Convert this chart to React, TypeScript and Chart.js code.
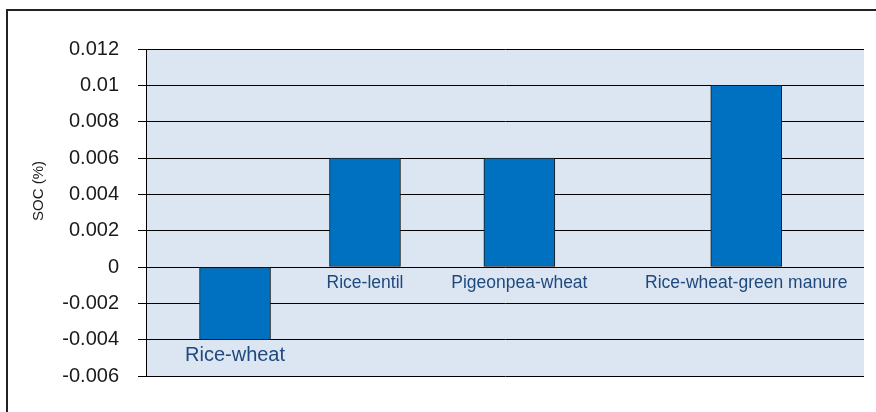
import React, { useEffect, useRef } from "react";
import { Chart, registerables } from "chart.js";

Chart.register(...registerables);

const categories = ["Rice-wheat", "Rice-lentil", "Pigeonpea-wheat", "Rice-wheat-green manure"];
const socValues = [-0.004, 0.006, 0.006, 0.01];
// horizontal position of each bar across the plot, in percent of plot width
const barPositions = [12.4, 30.5, 52, 83.6];
const yAxisTitle = "SOC (%)";
const yMin = -0.006;
const yMax = 0.012;
const yStep = 0.002;

const FONT = "'Liberation Sans', Arial, sans-serif";

const plotBg = {
  id: "plotBg",
  beforeDraw(chart: any) {
    const { ctx, chartArea } = chart;
    ctx.save();
    ctx.fillStyle = "#dce6f2";
    ctx.fillRect(chartArea.left, chartArea.top, chartArea.right - chartArea.left, chartArea.bottom - chartArea.top);
    ctx.restore();
  },
};

const labelSizes = [20, 17.5, 17.5, 17.5];

const barLabels = {
  id: "barLabels",
  afterDatasetsDraw(chart: any) {
    const { ctx } = chart;
    const meta = chart.getDatasetMeta(0);
    ctx.save();
    ctx.fillStyle = "#1f497d";
    ctx.textAlign = "center";
    ctx.textBaseline = "alphabetic";
    meta.data.forEach((el: any, i: number) => {
      const bottom = Math.max(el.base, el.y);
      ctx.font = `${labelSizes[i]}px ${FONT}`;
      ctx.fillText(categories[i], el.x, bottom + 21.5);
    });
    ctx.restore();
  },
};

const yTitle = {
  id: "yTitle",
  afterDraw(chart: any) {
    const { ctx } = chart;
    ctx.save();
    ctx.translate(38.5, 191);
    ctx.rotate(-Math.PI / 2);
    ctx.font = `15px ${FONT}`;
    ctx.fillStyle = "#1a1a1a";
    ctx.textAlign = "center";
    ctx.textBaseline = "middle";
    ctx.fillText(yAxisTitle, 0, 0);
    ctx.restore();
  },
};

export default function App() {
  const ref = useRef<HTMLCanvasElement | null>(null);

  useEffect(() => {
    if (!ref.current) return;
    const chart = new Chart(ref.current, {
      type: "bar",
      data: {
        datasets: [
          {
            data: barPositions.map((x, i) => ({ x, y: socValues[i] })),
            backgroundColor: "#0070c0",
            borderColor: "#1a1a1a",
            borderWidth: 1,
            borderSkipped: false,
            barThickness: 71,
          } as any,
        ],
      },
      options: {
        animation: false,
        responsive: false,
        devicePixelRatio: 1,
        layout: { padding: { left: 0, right: 12, top: 49, bottom: 36 } },
        plugins: {
          legend: { display: false },
          tooltip: { enabled: false },
        },
        scales: {
          x: {
            type: "linear",
            min: 0,
            max: 100,
            display: false,
            offset: false,
          },
          y: {
            min: yMin,
            max: yMax,
            afterFit(scale: any) {
              scale.width = 146;
            },
            ticks: {
              stepSize: yStep,
              padding: 19,
              color: "#1a1a1a",
              font: { family: FONT, size: 20 },
              callback: (v: any) => String(Number(Number(v).toFixed(3))),
            },
            grid: {
              color: "#000",
              lineWidth: 1,
              tickLength: 8,
              drawTicks: true,
            },
            border: { display: true, color: "#000", width: 1 },
          },
        },
      },
      plugins: [plotBg, barLabels, yTitle],
    });
    return () => chart.destroy();
  }, []);

  return (
    <div style={{ position: "fixed", left: 0, top: 0, width: 876, height: 412, overflow: "hidden", background: "#fff" }}>
      <div
        style={{
          position: "absolute",
          left: 6,
          top: 9,
          width: 1000,
          height: 1000,
          border: "2px solid #222",
        }}
      />
      <canvas
        ref={ref}
        width={876}
        height={412}
        style={{ position: "absolute", left: 0, top: 0, width: 876, height: 412 }}
      />
    </div>
  );
}
